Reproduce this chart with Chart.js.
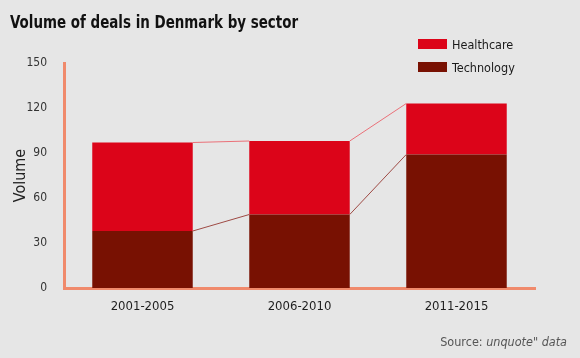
<!DOCTYPE html>
<html>
<head>
<meta charset="utf-8">
<script src="https://cdn.jsdelivr.net/npm/chart.js@4"></script>
<style>
  body { margin: 0; background: #e6e6e6; }
  #wrap { position: relative; width: 580px; height: 358px; background: #e6e6e6; }
  #legend { position: absolute; left: 418px; top: 36px; font: 12.5px 'DejaVu Sans Condensed', sans-serif; color: #1a1a1a; }
  #legend .item { display: flex; align-items: center; height: 16px; margin-bottom: 7px; }
  #legend .box { width: 29px; height: 10px; margin-right: 5px; }
  #source { position: absolute; right: 13px; top: 334px; font: 12.5px 'DejaVu Sans Condensed', sans-serif; color: #555; }
</style>
</head>
<body>
<div id="wrap">
  <canvas id="dealsChart" width="580" height="358"></canvas>
  <div id="legend"></div>
  <div id="source">Source: <i>unquote" data</i></div>
</div>
<script>
const periods = ['2001-2005', '2006-2010', '2011-2015'];
const technology = [38, 49, 89];
const healthcare = [59, 49, 34];
const yTicks = [0, 30, 60, 90, 120, 150];

const FONT = "'DejaVu Sans Condensed', sans-serif";
const TITLE = 'Volume of deals in Denmark by sector';

// lines joining the tops of neighbouring bars
const connectors = {
  id: 'connectors',
  afterDatasetsDraw(chart) {
    const ctx = chart.ctx;
    chart.data.datasets.forEach((ds, i) => {
      const bars = chart.getDatasetMeta(i).data;
      ctx.save();
      ctx.strokeStyle = ds.lineColor;
      ctx.lineWidth = 1;
      for (let j = 0; j < bars.length - 1; j++) {
        const a = bars[j], b = bars[j + 1];
        ctx.beginPath();
        ctx.moveTo(a.x + a.width / 2, a.y);
        ctx.lineTo(b.x - b.width / 2, b.y);
        ctx.stroke();
      }
      ctx.restore();
    });
  }
};

// condensed bold heading, squeezed a little to look like a narrow face
const heading = {
  id: 'heading',
  afterDraw(chart) {
    const ctx = chart.ctx;
    ctx.save();
    ctx.translate(10, 28);
    ctx.scale(0.83, 1);
    ctx.font = 'bold 18px ' + FONT;
    ctx.fillStyle = '#111';
    ctx.textBaseline = 'alphabetic';
    ctx.fillText(TITLE, 0, 0);
    ctx.restore();
  }
};

const chart = new Chart(document.getElementById('dealsChart'), {
  type: 'bar',
  data: {
    labels: periods,
    datasets: [
      { label: 'Technology', data: technology, backgroundColor: '#781102', lineColor: '#9e4a44' },
      { label: 'Healthcare', data: healthcare, backgroundColor: '#dc0419', lineColor: '#ea7078' }
    ]
  },
  options: {
    responsive: false,
    devicePixelRatio: 1,
    animation: false,
    barPercentage: 0.64,
    categoryPercentage: 1,
    layout: { padding: { left: 10, right: 45, top: 63, bottom: 40 } },
    plugins: {
      legend: { display: false },
      tooltip: { enabled: false },
      title: { display: false }
    },
    scales: {
      x: {
        stacked: true,
        grid: { display: false },
        border: { display: true, color: '#f08a6c', width: 3 },
        ticks: { color: '#1e1e1e', font: { family: FONT, size: 13 }, padding: 3 },
        afterFit(scale) { scale.height = 30; }
      },
      y: {
        stacked: true,
        min: 0,
        max: 150,
        afterBuildTicks(scale) { scale.ticks = yTicks.map(v => ({ value: v })); },
        grid: { display: false },
        border: { display: true, color: '#f08a6c', width: 3 },
        ticks: { color: '#333', font: { family: FONT, size: 12 }, padding: 9 },
        title: { display: true, text: 'Volume', color: '#222', font: { family: FONT, size: 16 }, padding: 1 },
        afterFit(scale) { scale.width = 54; }
      }
    }
  },
  plugins: [connectors, heading]
});

const legend = document.getElementById('legend');
chart.data.datasets.slice().reverse().forEach(ds => {
  const item = document.createElement('div');
  item.className = 'item';
  item.innerHTML = '<span class="box" style="background:' + ds.backgroundColor + '"></span>' + ds.label;
  legend.appendChild(item);
});
</script>
</body>
</html>
